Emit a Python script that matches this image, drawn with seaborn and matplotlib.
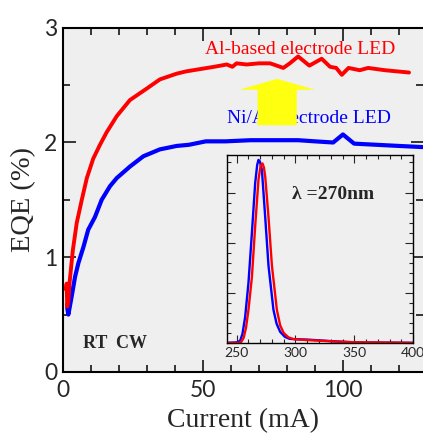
import numpy as np
import pandas as pd
import seaborn as sns
import matplotlib.pyplot as plt
from matplotlib.patches import FancyArrow
from matplotlib.ticker import MultipleLocator

# EQE vs current
cur_al = [1.0, 1.3, 1.5, 1.9, 2.3, 3.5, 4.9, 6.7, 8.5, 10.8, 13.2, 15.6, 19.2, 23.9,
          29.9, 34.6, 40.6, 44.0, 49.0, 54.0, 58.5, 60.5, 62.0,
          65.6, 70.0, 74.0, 78.7, 81.0, 84.0, 88.0, 92.4, 95.4, 97.6, 99.6, 102.0,
          106.0, 109.0, 115.0, 123.6]
eqe_al = [0.72, 0.77, 0.57, 0.62, 0.77, 1.06, 1.30, 1.50, 1.69, 1.86, 1.98, 2.09, 2.23, 2.37,
          2.47, 2.55, 2.60, 2.62, 2.64, 2.66, 2.68, 2.66, 2.69,
          2.68, 2.69, 2.69, 2.65, 2.69, 2.75, 2.67, 2.73, 2.66, 2.65, 2.59, 2.65,
          2.63, 2.65, 2.63, 2.61]

cur_ni = [1.5, 1.9, 3.1, 4.3, 5.5, 7.3, 9.0, 11.4, 13.8, 16.8, 19.2, 23.9, 28.7, 34.6,
          40.6, 45.0, 51.0, 58.0, 67.0, 75.0,
          84.0, 90.0, 96.5, 100.0, 104.0, 112.0, 120.0, 128.5]
eqe_ni = [0.56, 0.50, 0.66, 0.83, 0.95, 1.09, 1.24, 1.35, 1.50, 1.62, 1.69, 1.79, 1.88, 1.94,
          1.97, 1.98, 2.01, 2.01, 2.02, 2.02,
          2.02, 2.01, 2.00, 2.07, 1.99, 1.98, 1.97, 1.96]

# inset EL spectra (arb. units)
wl_ni = [242, 250, 253, 255, 257.3, 260.1, 263, 265.8, 267.5, 268.6, 269.8, 271.5,
         274.3, 277.1, 281.3, 284, 287, 291, 295, 303, 310, 320, 330, 350, 400]
int_ni = [0.0, 0.01, 0.04, 0.18, 0.52, 1.20, 2.19, 3.19, 3.55, 3.65, 3.62, 3.45,
          2.51, 1.54, 0.66, 0.38, 0.22, 0.12, 0.08, 0.07, 0.065, 0.05, 0.035, 0.01, 0.0]
wl_al = [242, 252, 254, 256, 258, 260.1, 263, 265.8, 268.6, 270.5, 272, 273.2,
         274.3, 277.1, 280, 284.2, 287, 289.9, 294, 298, 310, 320, 335, 350, 400]
int_al = [0.0, 0.0, 0.02, 0.1, 0.3, 0.66, 1.31, 2.33, 3.26, 3.55, 3.58, 3.50,
          3.32, 2.51, 1.54, 0.66, 0.35, 0.20, 0.11, 0.075, 0.055, 0.045, 0.025, 0.012, 0.0]

sns.set_style("ticks", {"axes.facecolor": "#efefef", "axes.edgecolor": "black"})
plt.rcParams["font.family"] = ["Liberation Serif", "DejaVu Serif"]

fig = plt.figure(figsize=(4.23, 4.34), dpi=100)
ax = fig.add_axes([0.149, 0.143, 0.851, 0.793])

df_al = pd.DataFrame({"cur": cur_al, "eqe": eqe_al})
df_ni = pd.DataFrame({"cur": cur_ni, "eqe": eqe_ni})
sns.lineplot(data=df_ni, x="cur", y="eqe", ax=ax, color="#0000ff", lw=3.0, sort=False)
sns.lineplot(data=df_al, x="cur", y="eqe", ax=ax, color="#ff0000", lw=2.8, sort=False)

ax.set_xlim(0, 128.6)
ax.set_ylim(0, 3)
ax.xaxis.set_major_locator(MultipleLocator(50))
ax.xaxis.set_minor_locator(MultipleLocator(10))
ax.yaxis.set_major_locator(MultipleLocator(1))
ax.yaxis.set_minor_locator(MultipleLocator(0.5))
ax.tick_params(which="both", direction="in", top=True, right=True, width=1.3)
ax.tick_params(which="major", length=9)
ax.tick_params(which="minor", length=5)
ax.tick_params(axis="x", which="major", pad=6)
ax.tick_params(axis="y", which="major", pad=4)
for lab in ax.get_xticklabels() + ax.get_yticklabels():
    lab.set_fontfamily("Lato")
    lab.set_fontsize(16.5)
for s in ["left", "bottom", "top"]:
    ax.spines[s].set_linewidth(1.5)
ax.spines["right"].set_visible(False)

ax.set_xlabel("Current (mA)", fontsize=20, labelpad=5)
ax.set_ylabel("EQE (%)", fontsize=20.5, labelpad=6)

ax.text(50.7, 2.81, "Al-based electrode LED", color="#ff0000", fontsize=14, va="center")
ax.text(58.6, 2.21, "Ni/Al electrode LED", color="#0000ff", fontsize=14, va="center")
ax.text(7.1, 0.25, "RT  CW", fontsize=13, fontweight="bold", va="center")

ax.add_patch(FancyArrow(76.5, 2.15, 0, 0.405, width=14, head_width=27, head_length=0.095,
                        length_includes_head=True, color="#ffff10", lw=0, zorder=5))

# inset
ins = fig.add_axes([0.537, 0.210, 0.44, 0.433])
sns.lineplot(x=wl_ni, y=int_ni, ax=ins, color="#0000ff", lw=1.7, sort=False)
sns.lineplot(x=wl_al, y=int_al, ax=ins, color="#ff0000", lw=1.7, sort=False)
ins.set_xlim(242, 400)
ins.set_ylim(0, 3.75)
ins.xaxis.set_major_locator(MultipleLocator(50))
ins.xaxis.set_minor_locator(MultipleLocator(10))
ins.yaxis.set_major_locator(MultipleLocator(1))
ins.yaxis.set_minor_locator(MultipleLocator(0.2))
ins.tick_params(which="both", direction="in", top=True, right=True, width=0.8)
ins.tick_params(which="major", length=6)
ins.tick_params(which="minor", length=3)
ins.tick_params(axis="x", pad=3)
ins.set_yticklabels([])
for lab in ins.get_xticklabels():
    lab.set_fontfamily("Lato")
    lab.set_fontsize(10)
for s in ins.spines.values():
    s.set_linewidth(1.0)
ins.set_xlabel("")
ins.set_ylabel("")
ins.text(0.35, 0.79, "\u03bb =270nm", transform=ins.transAxes, fontsize=14,
         fontweight="bold", va="center")

fig.savefig("out.png", dpi=100)
